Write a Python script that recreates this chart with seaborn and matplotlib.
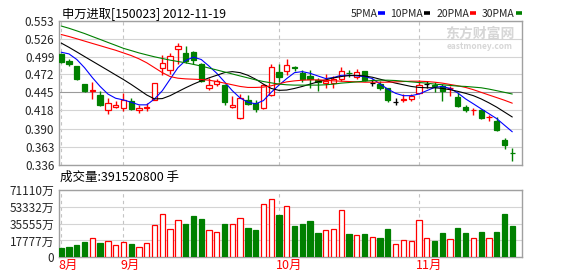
import numpy as np
import pandas as pd
import matplotlib
matplotlib.use("Agg")
import matplotlib.pyplot as plt
import matplotlib.transforms as mtrans
from matplotlib.lines import Line2D
import seaborn as sns

sns.set_theme(style="white")
plt.rcParams['font.family'] = ['Noto Sans CJK SC', 'DejaVu Sans']

# ---------------- data ----------------
title = "申万进取[150023] 2012-11-19"
volume_caption = "成交量:391520800 手"

opens = [0.5035, 0.4916, 0.4842, 0.4575, 0.4475, 0.4406, 0.4179, 0.4223, 0.4218, 0.4322,
         0.4189, 0.4221, 0.4342, 0.4812, 0.4783, 0.5104, 0.5050, 0.5055, 0.4872, 0.4510,
         0.4575, 0.4560, 0.4223, 0.4070, 0.4337, 0.4288, 0.4213, 0.4416, 0.4763, 0.4768,
         0.4830, 0.4738, 0.4693, 0.4639, 0.4589, 0.4599, 0.4649, 0.4743, 0.4688, 0.4768,
         0.4585, 0.4570, 0.4520, 0.4312, 0.4342, 0.4352, 0.4436, 0.4575, 0.4555, 0.4550,
         0.4510, 0.4387, 0.4223, 0.4179, 0.4189, 0.4075, 0.4025, 0.3727, 0.3536]
highs = [0.5040, 0.4946, 0.4847, 0.4575, 0.4604, 0.4466, 0.4367, 0.4327, 0.4436, 0.4372,
         0.4263, 0.4288, 0.4599, 0.5020, 0.5045, 0.5193, 0.5144, 0.5080, 0.4896, 0.4669,
         0.4659, 0.4575, 0.4401, 0.4426, 0.4416, 0.4337, 0.4575, 0.4872, 0.4872, 0.4956,
         0.4847, 0.4788, 0.4788, 0.4669, 0.4723, 0.4698, 0.4837, 0.4788, 0.4797, 0.4768,
         0.4649, 0.4624, 0.4520, 0.4362, 0.4426, 0.4426, 0.4639, 0.4624, 0.4609, 0.4575,
         0.4540, 0.4436, 0.4263, 0.4218, 0.4203, 0.4114, 0.4080, 0.3768, 0.3617]
lows = [0.4896, 0.4854, 0.4634, 0.4451, 0.4344, 0.4243, 0.4119, 0.4213, 0.4164, 0.4179,
        0.4139, 0.4174, 0.4342, 0.4718, 0.4723, 0.4872, 0.4886, 0.4872, 0.4609, 0.4490,
        0.4540, 0.4263, 0.4213, 0.4045, 0.4263, 0.4154, 0.4203, 0.4401, 0.4609, 0.4718,
        0.4773, 0.4609, 0.4510, 0.4476, 0.4510, 0.4515, 0.4624, 0.4689, 0.4659, 0.4624,
        0.4550, 0.4490, 0.4312, 0.4263, 0.4312, 0.4327, 0.4426, 0.4510, 0.4460, 0.4327,
        0.4391, 0.4228, 0.4154, 0.4114, 0.4055, 0.4015, 0.3872, 0.3602, 0.3415]
closes = [0.4906, 0.4882, 0.4649, 0.4471, 0.4485, 0.4253, 0.4288, 0.4263, 0.4337, 0.4193,
          0.4213, 0.4228, 0.4599, 0.4896, 0.4995, 0.5144, 0.4921, 0.4941, 0.4619, 0.4555,
          0.4624, 0.4302, 0.4263, 0.4362, 0.4283, 0.4198, 0.4560, 0.4832, 0.4684, 0.4857,
          0.4820, 0.4649, 0.4649, 0.4614, 0.4624, 0.4649, 0.4773, 0.4738, 0.4763, 0.4634,
          0.4585, 0.4520, 0.4342, 0.4312, 0.4352, 0.4401, 0.4560, 0.4575, 0.4545, 0.4476,
          0.4515, 0.4238, 0.4179, 0.4189, 0.4070, 0.4080, 0.3882, 0.3652, 0.3531]

ma5 = [0.5055, 0.5030, 0.4946, 0.4822, 0.4674, 0.4540, 0.4426, 0.4362, 0.4337, 0.4302,
       0.4263, 0.4263, 0.4352, 0.4476, 0.4649, 0.4822, 0.4931, 0.4981, 0.4946, 0.4847,
       0.4738, 0.4609, 0.4476, 0.4367, 0.4302, 0.4278, 0.4327, 0.4451, 0.4560, 0.4659,
       0.4748, 0.4763, 0.4738, 0.4698, 0.4659, 0.4674, 0.4708, 0.4708, 0.4698, 0.4689,
       0.4659, 0.4575, 0.4500, 0.4436, 0.4401, 0.4401, 0.4426, 0.4476, 0.4525, 0.4540,
       0.4510, 0.4441, 0.4352, 0.4278, 0.4203, 0.4129, 0.4055, 0.3956, 0.3857]
ma10 = [0.5193, 0.5129, 0.5060, 0.4990, 0.4921, 0.4852, 0.4783, 0.4713, 0.4644, 0.4570,
        0.4491, 0.4411, 0.4352, 0.4357, 0.4401, 0.4461, 0.4520, 0.4575, 0.4624, 0.4669,
        0.4708, 0.4748, 0.4763, 0.4748, 0.4708, 0.4649, 0.4575, 0.4510, 0.4481, 0.4486,
        0.4510, 0.4540, 0.4575, 0.4609, 0.4639, 0.4669, 0.4689, 0.4703, 0.4708, 0.4698,
        0.4679, 0.4649, 0.4619, 0.4590, 0.4565, 0.4540, 0.4525, 0.4520, 0.4520, 0.4510,
        0.4491, 0.4466, 0.4436, 0.4401, 0.4352, 0.4293, 0.4228, 0.4154, 0.4080]
ma20 = [0.5322, 0.5292, 0.5258, 0.5223, 0.5188, 0.5154, 0.5119, 0.5085, 0.5045, 0.5005,
        0.4956, 0.4896, 0.4822, 0.4748, 0.4689, 0.4664, 0.4654, 0.4649, 0.4644, 0.4634,
        0.4614, 0.4590, 0.4565, 0.4540, 0.4525, 0.4525, 0.4530, 0.4550, 0.4580, 0.4609,
        0.4624, 0.4634, 0.4639, 0.4639, 0.4634, 0.4624, 0.4619, 0.4614, 0.4609, 0.4604,
        0.4604, 0.4604, 0.4604, 0.4609, 0.4614, 0.4619, 0.4619, 0.4614, 0.4604, 0.4590,
        0.4570, 0.4550, 0.4525, 0.4491, 0.4451, 0.4411, 0.4372, 0.4332, 0.4288]
ma30 = [0.5450, 0.5416, 0.5377, 0.5337, 0.5292, 0.5248, 0.5203, 0.5159, 0.5114, 0.5080,
        0.5045, 0.5015, 0.4986, 0.4961, 0.4936, 0.4916, 0.4896, 0.4872, 0.4847, 0.4817,
        0.4788, 0.4758, 0.4728, 0.4698, 0.4669, 0.4639, 0.4614, 0.4594, 0.4575, 0.4565,
        0.4560, 0.4560, 0.4560, 0.4560, 0.4565, 0.4575, 0.4590, 0.4599, 0.4609, 0.4619,
        0.4629, 0.4634, 0.4634, 0.4629, 0.4619, 0.4609, 0.4599, 0.4590, 0.4575, 0.4565,
        0.4555, 0.4545, 0.4540, 0.4530, 0.4520, 0.4500, 0.4476, 0.4451, 0.4426]

volume_wan = [9450, 10500, 12600, 15750, 20650, 14700, 17500, 13300, 16450, 13650,
              11200, 15400, 34300, 45850, 30100, 39550, 35700, 44100, 40950, 29050,
              26950, 35700, 35350, 41650, 30450, 28350, 56350, 61600, 45150, 54250,
              33600, 35700, 38850, 25200, 29050, 30100, 50050, 24150, 23800, 24150,
              21700, 19950, 29400, 14350, 18550, 17500, 39550, 20650, 16800, 25200,
              19600, 30450, 25200, 20650, 26250, 20650, 26250, 46200, 33600]

ma_names = ["5PMA", "10PMA", "20PMA", "30PMA"]
month_labels = ["8月", "9月", "10月", "11月"]
month_start_idx = [0, 8, 28, 46]
price_tick_labels = ["0.553", "0.526", "0.499", "0.472", "0.445", "0.418", "0.390", "0.363", "0.336"]
volume_tick_labels = ["0", "17777万", "35555万", "53332万", "71110万"]

# ---------------- styling ----------------
RED = "#ff0000"
GREEN = "#008000"
FRAME = "#a0a0a0"
GRID = "#d4d4d4"
ma_colors = {"5PMA": "#0000ff", "10PMA": "#000000", "20PMA": "#ff0000", "30PMA": "#008000"}

W, H = 578, 276
fig = plt.figure(figsize=(W / 100, H / 100), dpi=100, facecolor="white")


def rect(l, t, r, b):
    return [l / W, 1 - b / H, (r - l) / W, (b - t) / H]


ax = fig.add_axes(rect(58.5, 20.7, 522, 164.8))
axv = fig.add_axes(rect(58.5, 190, 522, 257.3))

o = np.array(opens); h = np.array(highs); l = np.array(lows); c = np.array(closes)
n = len(c)
x = np.arange(n)
up = c > o
down = c < o
cand_col = np.where(up, RED, np.where(down, GREEN, "black"))

# wicks and bodies
ax.vlines(x, l, h, colors=cand_col, linewidth=1.0, zorder=2)
ax.bar(x, np.abs(c - o), bottom=np.minimum(o, c), width=0.68,
       facecolor=np.where(up, "white", cand_col), edgecolor=cand_col,
       linewidth=0.9, zorder=3)

# moving averages via seaborn
df = pd.DataFrame({
    "idx": np.tile(x, 4),
    "val": np.concatenate([ma5, ma10, ma20, ma30]),
    "ma": np.repeat(ma_names, n),
})
sns.lineplot(data=df, x="idx", y="val", hue="ma", hue_order=ma_names,
             palette=ma_colors, linewidth=0.8, legend=False, errorbar=None,
             ax=ax, zorder=4)

# volume
vol_red = c >= o
axv.bar(x, volume_wan, width=0.68,
        facecolor=np.where(vol_red, "white", GREEN),
        edgecolor=np.where(vol_red, RED, GREEN), linewidth=0.9, zorder=3)

# axes formatting
ptick = [float(s) for s in price_tick_labels]
vtick = [float(s.replace("万", "")) for s in volume_tick_labels]
for a in (ax, axv):
    a.set_xlim(-0.35, n + 0.25)
    a.set_xlabel("")
    a.set_ylabel("")
    for sp in a.spines.values():
        sp.set_color(FRAME)
        sp.set_linewidth(1.0)
        sp.set_visible(True)
    a.set_xticks(month_start_idx)
    a.xaxis.grid(True, linestyle=(0, (3, 3)), color="#c4c4c4", linewidth=0.8)
    a.yaxis.grid(True, color=GRID, linewidth=0.8)
    a.set_axisbelow(True)
    a.tick_params(length=0)
    a.set_facecolor("white")

ax.set_ylim(min(ptick), max(ptick))
ax.set_yticks(ptick)
ax.set_yticklabels(price_tick_labels, fontsize=8.5)
ax.tick_params(axis="y", pad=3)
ax.set_xticklabels([])
gl = ax.get_ygridlines()
gl[4].set_color("#9a9a9a")

axv.set_ylim(0, max(vtick))
axv.set_yticks(vtick)
axv.set_yticklabels(volume_tick_labels, fontsize=8.5)
axv.tick_params(axis="y", pad=3)
axv.set_xticklabels(month_labels, fontsize=9, color=RED, ha="left")
axv.tick_params(axis="x", pad=1.5)
shift = mtrans.ScaledTranslation(-3 / 100, 0, fig.dpi_scale_trans)
for lab in axv.get_xticklabels():
    lab.set_transform(lab.get_transform() + shift)

# texts
fig.text(62.5 / W, 1 - 14 / H, title, fontsize=8.8, va="center", ha="left", color="black")
fig.text(60 / W, 1 - 177 / H, volume_caption, fontsize=9, va="center", ha="left", color="black")

# watermark
fig.text(480 / W, 1 - 33.5 / H, "东方财富网", fontsize=10, fontweight="bold",
         color="#d6d6d6", ha="center", va="center", zorder=0)
fig.text(480 / W, 1 - 46.5 / H, "eastmoney.com", fontsize=6, fontweight="bold",
         color="#d6d6d6", ha="center", va="center", zorder=0)

# legend (label then colour dash)
handles = [Line2D([0], [0], color=ma_colors[m], lw=2.6, solid_capstyle="butt") for m in ma_names]
fig.legend(handles, ma_names, loc="center right", bbox_to_anchor=(522 / W, 1 - 14 / H),
           ncol=4, markerfirst=False, frameon=False, handlelength=0.6,
           handletextpad=0.1, columnspacing=0.55, fontsize=7.5,
           borderaxespad=0, borderpad=0)

fig.savefig("out.png", dpi=100, facecolor="white")
